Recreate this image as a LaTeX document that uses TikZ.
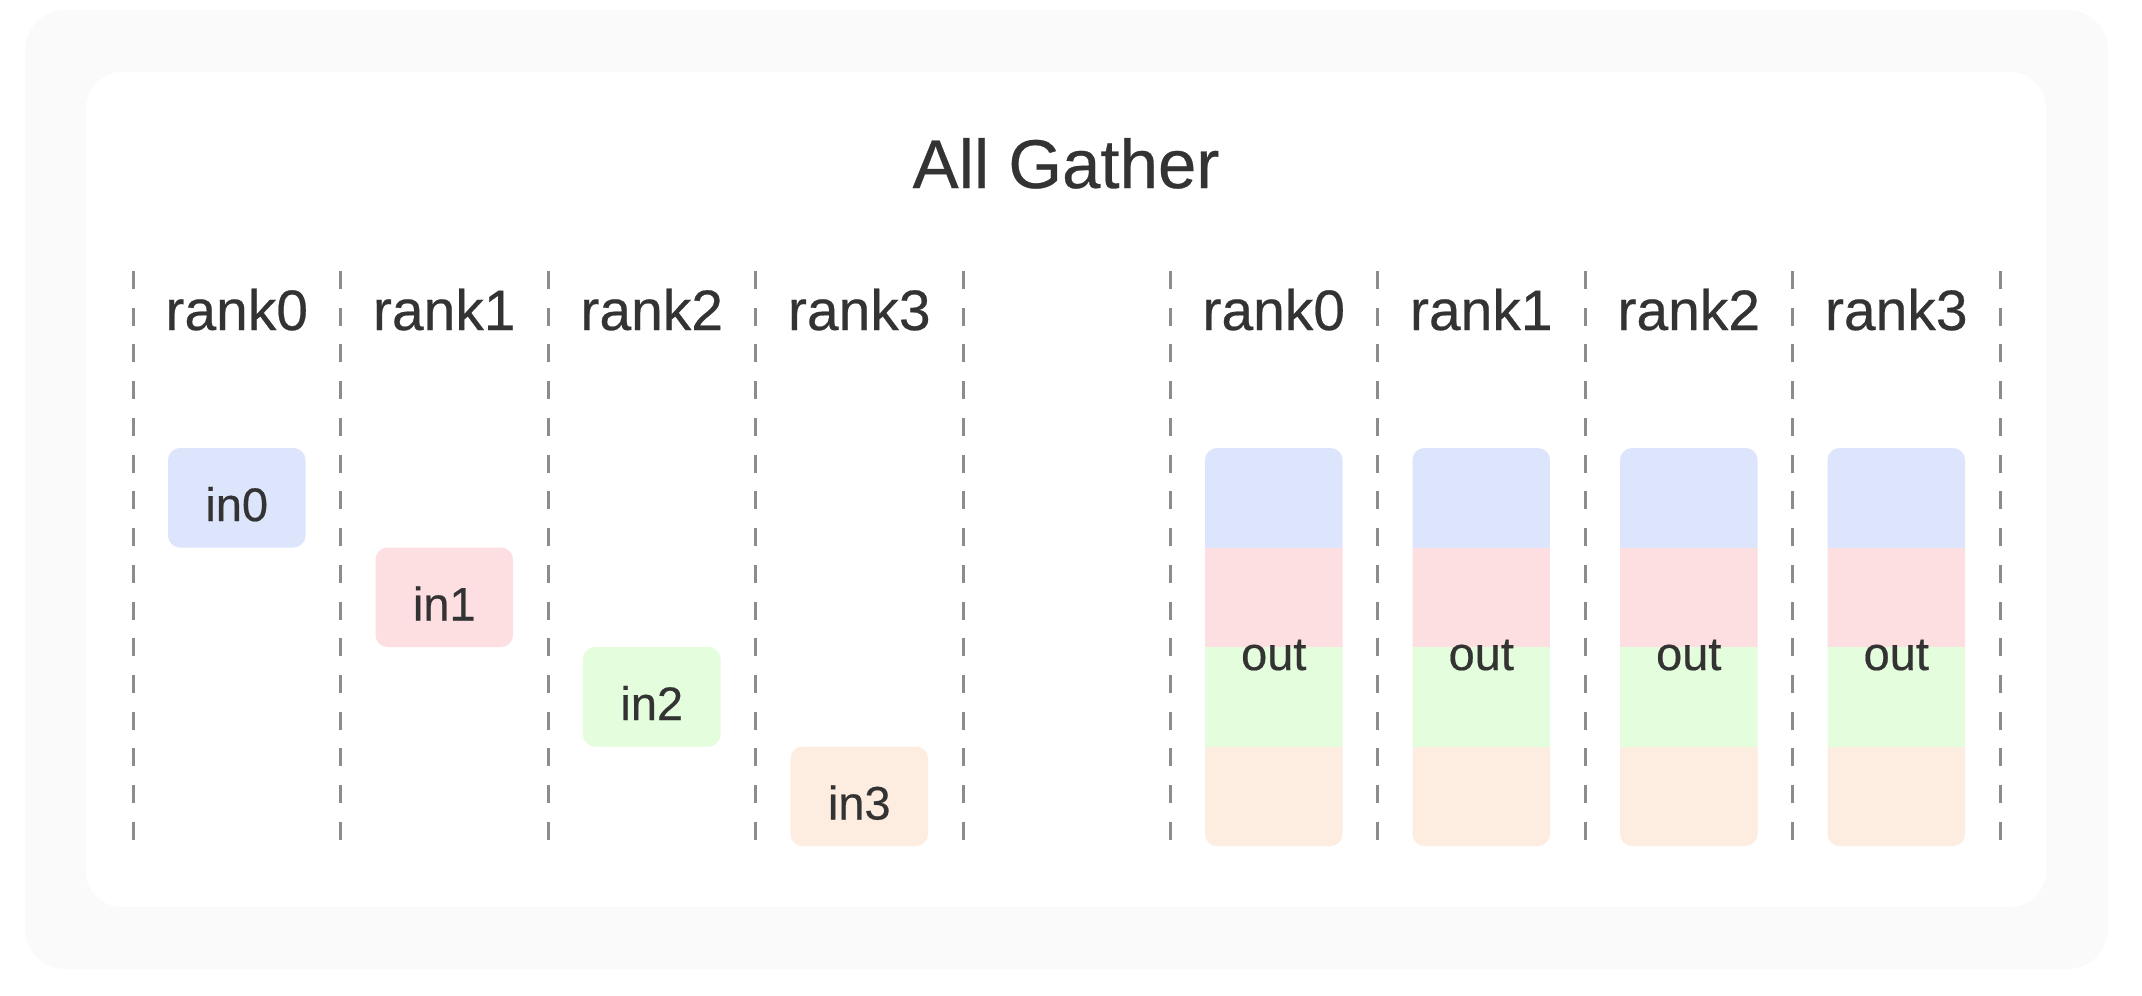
\documentclass[tikz,border=0pt]{standalone}
\usepackage{fontspec}
\setmainfont{Liberation Sans}[FakeBold=0.4]
\definecolor{txt}{HTML}{333333}
\definecolor{bgout}{HTML}{FAFAFA}
\definecolor{sepc}{HTML}{8C8C8C}
\definecolor{cb}{HTML}{DDE5FD}
\definecolor{cr}{HTML}{FDDEE1}
\definecolor{cg}{HTML}{E4FDDC}
\definecolor{co}{HTML}{FDEDE0}
\begin{document}
\begin{tikzpicture}[x=1pt,y=-1pt,
  titletext/.style={text=txt, inner sep=0pt, font=\fontsize{69}{78}\selectfont},
  ranktext/.style={text=txt, inner sep=0pt, font=\fontsize{57}{64}\selectfont},
  lbltext/.style={text=txt, inner sep=0pt, font=\fontsize{47}{53}\selectfont},
  inbox/.style={draw=none, rounded corners=12pt, minimum width=137.5pt, minimum height=99.5pt, inner sep=0pt},
  outframe/.style={draw=none, minimum width=137.5pt, minimum height=398pt, inner sep=0pt},
  sepline/.style={draw=sepc, line width=3pt, dash pattern=on 18pt off 18.73pt}
]
\useasboundingbox (0,0) rectangle (2142,996);
\fill[bgout, rounded corners=40pt] (25,10) rectangle (2108,969);
\fill[white, rounded corners=36pt] (86,72) rectangle (2046,907);

\node[titletext, anchor=base] (title) at (1066,188) {All Gather};

\foreach \x in {133,340.5,548,755.5,963,1170,1377.5,1585,1792.5,2000}
  \draw[sepline] (\x,271) -- (\x,840);

\foreach \i in {0,...,3} {
  \node[ranktext, anchor=base] (lrank\i) at ({236.75+207.5*\i},330) {rank\i};
  \node[ranktext, anchor=base] (rrank\i) at ({1273.75+207.5*\i},330) {rank\i};
}

\foreach \i/\c in {0/cb,1/cr,2/cg,3/co} {
  \node[inbox, fill=\c] (in\i) at ({236.75+207.5*\i},{497.75+99.5*\i}) {};
  \node[lbltext, anchor=base] (tin\i) at ({236.75+207.5*\i},{521+99.5*\i}) {in\i};
}

\foreach \j in {0,...,3} {
  \pgfmathsetmacro{\cx}{1273.75+207.5*\j}
  \begin{scope}
    \clip[rounded corners=12pt] ({\cx-68.75},448) rectangle ({\cx+68.75},846);
    \fill[cb] ({\cx-70},446) rectangle ({\cx+70},547.5);
    \fill[cr] ({\cx-70},547.5) rectangle ({\cx+70},647);
    \fill[cg] ({\cx-70},647) rectangle ({\cx+70},746.5);
    \fill[co] ({\cx-70},746.5) rectangle ({\cx+70},848);
  \end{scope}
  \node[outframe] (out\j) at (\cx,647) {};
  \node[lbltext, anchor=base] (tout\j) at (\cx,670) {out};
}
\end{tikzpicture}
\end{document}
